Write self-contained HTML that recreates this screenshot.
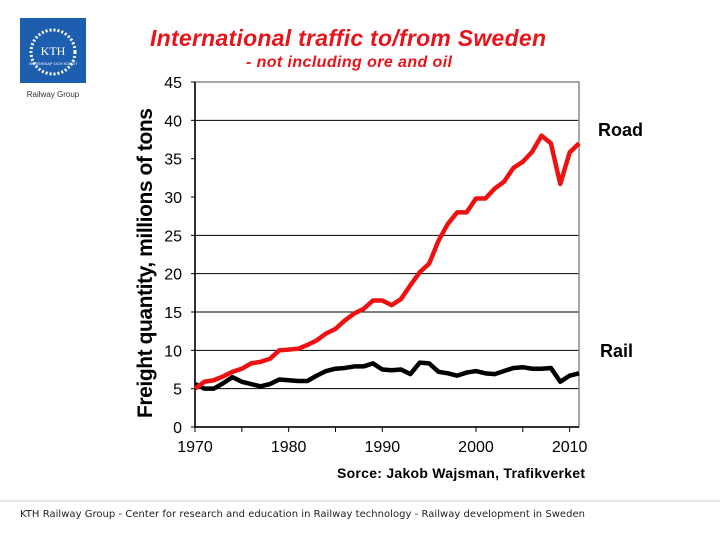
<!DOCTYPE html>
<html><head><meta charset="utf-8"><style>
body{margin:0;width:720px;height:540px;background:#fff;overflow:hidden;font-family:"Liberation Sans",sans-serif}
</style></head><body>
<svg width="720" height="540" xmlns="http://www.w3.org/2000/svg">
<rect x="20" y="18" width="66" height="65" fill="#1d5fae"/>
<circle cx="53" cy="52" r="22" fill="none" stroke="#fff" stroke-width="3" stroke-dasharray="2 2"/>
<text x="53" y="55" text-anchor="middle" fill="#fff" font-family="Liberation Serif" font-size="12">KTH</text>
<text x="53" y="65" text-anchor="middle" fill="#fff" font-size="4">VETENSKAP OCH KONST</text>
<text x="53" y="97" text-anchor="middle" font-size="8" fill="#333">Railway Group</text>
<text x="150" y="46" font-size="23" font-weight="bold" font-style="italic" fill="#e8141c" textLength="396">International traffic to/from Sweden</text>
<text x="246" y="67" font-size="16" font-weight="bold" font-style="italic" fill="#e8141c" textLength="206">- not including ore and oil</text>
<text transform="translate(152,263) rotate(-90)" text-anchor="middle" font-size="21" font-weight="bold" textLength="310">Freight quantity, millions of tons</text>
<g id="grid"></g><g id="axes"></g><g id="series"></g>
<text x="598" y="136" font-size="18" font-weight="bold">Road</text>
<text x="600" y="357" font-size="18" font-weight="bold">Rail</text>
<text x="337" y="478" font-size="14" font-weight="bold" textLength="248">Sorce: Jakob Wajsman, Trafikverket</text>
<line x1="0" y1="501" x2="720" y2="501" stroke="#ccc" stroke-width="1"/>
<text x="20" y="517" font-size="10" font-family="DejaVu Sans" fill="#222" textLength="565">KTH Railway Group - Center for research and education in Railway technology - Railway development in Sweden</text>
</svg>
<script>
const years=[1970,1971,1972,1973,1974,1975,1976,1977,1978,1979,1980,1981,1982,1983,1984,1985,1986,1987,1988,1989,1990,1991,1992,1993,1994,1995,1996,1997,1998,1999,2000,2001,2002,2003,2004,2005,2006,2007,2008,2009,2010,2011];
const road=[5.0,5.9,6.1,6.6,7.2,7.6,8.3,8.5,8.9,10,10.1,10.2,10.7,11.3,12.2,12.8,13.9,14.8,15.4,16.5,16.5,15.9,16.7,18.5,20.2,21.3,24.3,26.5,28,28,29.8,29.8,31.1,32,33.8,34.6,35.9,38,37,31.7,35.8,37];
const rail=[5.6,5.0,5.0,5.7,6.5,5.9,5.6,5.3,5.6,6.2,6.1,6.0,6.0,6.7,7.3,7.6,7.7,7.9,7.9,8.3,7.5,7.4,7.5,6.9,8.4,8.3,7.2,7.0,6.7,7.1,7.3,7.0,6.9,7.3,7.7,7.8,7.6,7.6,7.7,5.9,6.7,7.0];
const yTicks=[0,5,10,15,20,25,30,35,40,45];
const gridVals=[5,10,15,20,25,40];
const xLabels=[1970,1980,1990,2000,2010];
const xTicks=[1970,1975,1980,1985,1990,2000,2005,2010];
const NS="http://www.w3.org/2000/svg";
const L=195,R=579,T=82,B=427;
const x=v=>L+(v-1970)/(2011-1970)*(R-L);
const y=v=>B-v/45*(B-T);
function mk(p,tag,a){const e=document.createElementNS(NS,tag);for(const k in a)e.setAttribute(k,a[k]);document.getElementById(p).appendChild(e);return e;}
gridVals.forEach(v=>{const e=mk('grid','line',{x1:L,x2:R,y1:y(v),y2:y(v),stroke:'#000','stroke-width':1});

});
const f=mk('axes','rect',{x:L,y:T,width:R-L,height:B-T,fill:'none',stroke:'#888','stroke-width':1.5});


mk('axes','line',{x1:L,x2:L,y1:T,y2:B,stroke:'#000','stroke-width':1.5});
mk('axes','line',{x1:L,x2:R,y1:B,y2:B,stroke:'#000','stroke-width':1.5});
yTicks.forEach(v=>{mk('axes','line',{x1:L-4,x2:L,y1:y(v),y2:y(v),stroke:'#000'});
const t=mk('axes','text',{x:L-13,y:y(v)+6,'text-anchor':'end','font-size':16});t.textContent=v;

});
xTicks.forEach(v=>mk('axes','line',{x1:x(v),x2:x(v),y1:B,y2:B+5,stroke:'#000'}));
xLabels.forEach(v=>{const t=mk('axes','text',{x:x(v),y:B+25,'text-anchor':'middle','font-size':16});t.textContent=v;

});
function line(d,c,n){const p=mk('series','polyline',{points:d.map((v,i)=>x(years[i])+','+y(v)).join(' '),fill:'none',stroke:c,'stroke-width':4.5,'stroke-linejoin':'round'});

}
line(rail,'#000','rail-line');
line(road,'#ee1111','road-line');
</script>
</body></html>
